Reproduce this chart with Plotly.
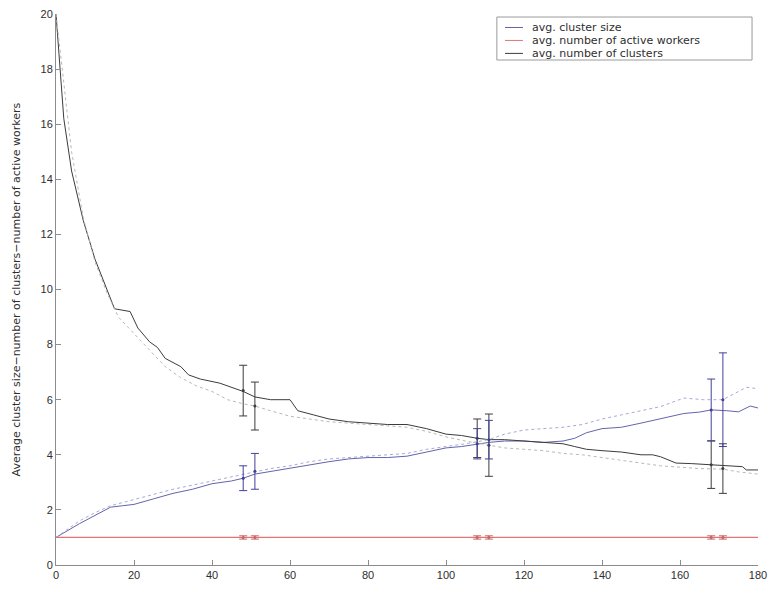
import plotly.graph_objects as go

# ---- data -------------------------------------------------------------
# avg. number of clusters, run 1 (solid)
clusters_x = [0, 1, 2, 4, 7, 10, 13, 15, 19, 21, 24, 26, 28, 32, 34, 37, 42, 46, 48, 51,
              55, 60, 62, 66, 70, 75, 80, 85, 90, 95, 100, 104, 108, 111, 115, 120, 125,
              130, 133, 136, 140, 145, 150, 153, 155, 159, 163, 168, 172, 176, 177, 180]
clusters_y = [20, 18.1, 16.2, 14.3, 12.5, 11.1, 10.0, 9.3, 9.2, 8.6, 8.1, 7.9, 7.5, 7.2,
              6.9, 6.75, 6.6, 6.4, 6.3, 6.1, 6.0, 6.0, 5.6, 5.45, 5.3, 5.2, 5.15, 5.1, 5.1,
              4.95, 4.75, 4.7, 4.6, 4.55, 4.55, 4.5, 4.45, 4.4, 4.3, 4.2, 4.15, 4.1, 4.0,
              4.0, 3.93, 3.7, 3.68, 3.63, 3.6, 3.57, 3.45, 3.45]

# avg. number of clusters, run 2 (dotted)
clusters2_x = [0, 2, 4, 7, 10, 13, 16, 20, 24, 28, 32, 36, 40, 44, 48, 51, 55, 60, 65, 70,
               75, 80, 85, 90, 95, 100, 105, 111, 115, 120, 125, 130, 135, 140, 145, 150,
               155, 160, 165, 171, 175, 180]
clusters2_y = [20, 17.5, 15.0, 12.6, 11.0, 9.9, 9.0, 8.4, 7.8, 7.2, 6.8, 6.5, 6.3, 6.0,
               5.85, 5.77, 5.6, 5.4, 5.3, 5.2, 5.15, 5.1, 5.05, 5.0, 4.85, 4.65, 4.5, 4.35,
               4.25, 4.2, 4.15, 4.05, 4.0, 3.9, 3.8, 3.7, 3.6, 3.55, 3.5, 3.48, 3.38, 3.3]

# avg. cluster size, run 1 (solid)
size_x = [0, 3, 6, 10, 14, 17, 20, 25, 30, 35, 40, 45, 48, 51, 55, 60, 65, 70, 75, 80, 85,
          90, 95, 100, 104, 108, 111, 115, 120, 125, 130, 133, 136, 140, 145, 150, 155, 161,
          165, 168, 172, 175, 178, 180]
size_y = [1.0, 1.25, 1.5, 1.8, 2.1, 2.15, 2.2, 2.4, 2.6, 2.75, 2.95, 3.05, 3.15, 3.3, 3.4,
          3.5, 3.65, 3.75, 3.85, 3.9, 3.9, 3.95, 4.1, 4.25, 4.3, 4.4, 4.45, 4.5, 4.5, 4.45,
          4.5, 4.6, 4.8, 4.95, 5.0, 5.15, 5.3, 5.5, 5.55, 5.63, 5.6, 5.56, 5.77, 5.7]

# avg. cluster size, run 2 (dotted)
size2_x = [0, 3, 6, 10, 14, 18, 22, 26, 30, 35, 40, 45, 51, 55, 60, 65, 70, 75, 80, 85, 90,
           95, 100, 105, 111, 115, 120, 125, 130, 135, 140, 145, 150, 155, 161, 166, 171,
           174, 177, 180]
size2_y = [1.0, 1.3, 1.6, 1.9, 2.15, 2.3, 2.45, 2.6, 2.75, 2.9, 3.05, 3.2, 3.4, 3.5, 3.6,
           3.75, 3.85, 3.9, 3.95, 4.0, 4.05, 4.2, 4.3, 4.4, 4.55, 4.75, 4.9, 4.95, 5.0, 5.1,
           5.3, 5.45, 5.6, 5.75, 6.06, 6.0, 6.0, 6.24, 6.45, 6.4]

# avg. number of active workers
workers_x = [0, 180]
workers_y = [1, 1]

# error bars (mean and half-width) at the sampled time steps
bars_a_x = [48, 108, 168]
bars_b_x = [51, 111, 171]
clusters_bar_y = [6.33, 4.6, 3.64]
clusters_bar_e = [0.92, 0.7, 0.86]
clusters2_bar_y = [5.77, 4.35, 3.5]
clusters2_bar_e = [0.87, 1.13, 0.9]
size_bar_y = [3.15, 4.4, 5.63]
size_bar_e = [0.45, 0.55, 1.12]
size2_bar_y = [3.4, 4.55, 6.0]
size2_bar_e = [0.65, 0.7, 1.7]
workers_bar_x = [48, 51, 108, 111, 168, 171]
workers_bar_y = [1, 1, 1, 1, 1, 1]
workers_bar_e = [0.06, 0.06, 0.06, 0.06, 0.06, 0.06]

x_ticks = [0, 20, 40, 60, 80, 100, 120, 140, 160, 180]
y_ticks = [0, 2, 4, 6, 8, 10, 12, 14, 16, 18, 20]

legend_names = ["avg. cluster size", "avg. number of active workers",
                "avg. number of clusters"]

BLUE = "#6464ac"
BLUE_LIGHT = "#a8a8d6"
RED = "#e27474"
BLACK = "#3c3c3c"
GREY_LIGHT = "#b8b8b8"
legend_colors = [BLUE, RED, BLACK]

TEXT = "#2e2e2e"
FONT = "DejaVu Sans, sans-serif"

fig = go.Figure()

# lines
fig.add_trace(go.Scatter(x=size_x, y=size_y, mode="lines", name=legend_names[0],
                         line=dict(color=BLUE, width=1)))
fig.add_trace(go.Scatter(x=clusters_x, y=clusters_y, mode="lines", name=legend_names[2],
                         line=dict(color=BLACK, width=1)))
fig.add_trace(go.Scatter(x=size2_x, y=size2_y, mode="lines",
                         line=dict(color=BLUE_LIGHT, width=1, dash="dot")))
fig.add_trace(go.Scatter(x=clusters2_x, y=clusters2_y, mode="lines",
                         line=dict(color=GREY_LIGHT, width=1, dash="dot")))
fig.add_trace(go.Scatter(x=workers_x, y=workers_y, mode="lines", name=legend_names[1],
                         line=dict(color=RED, width=1.2)))


def add_bars(xs, ys, es, color):
    fig.add_trace(go.Scatter(
        x=xs, y=ys, mode="markers",
        marker=dict(color=color, size=3),
        error_y=dict(type="data", array=es, visible=True, color=color,
                     thickness=1, width=4)))


add_bars(bars_a_x, clusters_bar_y, clusters_bar_e, BLACK)
add_bars(bars_b_x, clusters2_bar_y, clusters2_bar_e, BLACK)
add_bars(bars_a_x, size_bar_y, size_bar_e, "#40409a")
add_bars(bars_b_x, size2_bar_y, size2_bar_e, "#40409a")
add_bars(workers_bar_x, workers_bar_y, workers_bar_e, "#c86464")

axis_common = dict(
    showgrid=False, zeroline=False, showline=True, linecolor="#8c8c8c", linewidth=1,
    ticks="inside", ticklen=5, tickcolor="#8c8c8c", mirror=False,
    tickfont=dict(family="Liberation Sans, Arial, sans-serif", size=11, color=TEXT),
)

# compact boxed legend in the upper right corner (paper coordinates)
LEG_LEFT, LEG_RIGHT, LEG_TOP, LEG_BOTTOM = 0.628, 0.9915, 0.9945, 0.9165
LEG_ROWS = [0.9755, 0.9520, 0.9285]
LINE_X0, LINE_X1, TEXT_X = 0.6396, 0.6652, 0.6766

shapes = [dict(type="rect", xref="paper", yref="paper",
               x0=LEG_LEFT, x1=LEG_RIGHT, y0=LEG_BOTTOM, y1=LEG_TOP,
               line=dict(color="#9a9a9a", width=1), fillcolor="white", layer="above")]
annotations = []
for name, color, ry in zip(legend_names, legend_colors, LEG_ROWS):
    shapes.append(dict(type="line", xref="paper", yref="paper",
                       x0=LINE_X0, x1=LINE_X1, y0=ry, y1=ry,
                       line=dict(color=color, width=1), layer="above"))
    annotations.append(dict(text=name, xref="paper", yref="paper", x=TEXT_X, y=ry,
                            xanchor="left", yanchor="middle", showarrow=False,
                            height=12, borderpad=0,
                            font=dict(family=FONT, size=11, color=TEXT)))

annotations.append(dict(
    text="Average cluster size\u2212number of clusters\u2212number of active workers",
    xref="paper", yref="paper", x=-0.0556, y=0.5, textangle=-90,
    showarrow=False, xanchor="center", yanchor="middle",
    font=dict(family=FONT, size=11, color=TEXT),
))

fig.update_layout(
    template="none",
    width=768, height=589,
    margin=dict(l=56, r=10, t=14, b=24),
    paper_bgcolor="white", plot_bgcolor="white",
    font=dict(family=FONT, color=TEXT),
    showlegend=False,
    xaxis=dict(range=[0, 180], tickvals=x_ticks, **axis_common),
    yaxis=dict(range=[0, 20], tickvals=y_ticks, **axis_common),
    shapes=shapes,
    annotations=annotations,
)

fig.write_html("out.html")
